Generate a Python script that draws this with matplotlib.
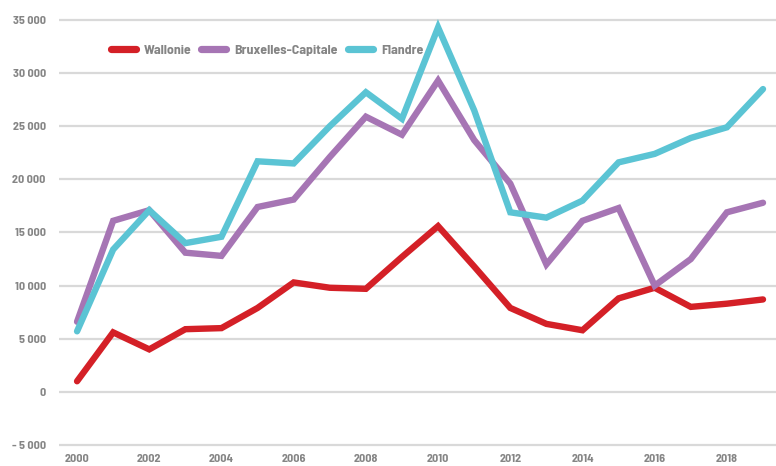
import matplotlib
matplotlib.use("Agg")
import matplotlib.pyplot as plt
from matplotlib.ticker import FuncFormatter
from matplotlib import font_manager

years = list(range(2000, 2020))
wallonie = [1000, 5600, 4000, 5900, 6000, 7900, 10300, 9800, 9700, 12700,
            15600, 11800, 7900, 6400, 5800, 8800, 9800, 8000, 8300, 8700]
bruxelles = [6600, 16100, 17100, 13100, 12800, 17400, 18100, 22100, 25900, 24200,
             29300, 23700, 19600, 12000, 16100, 17300, 10000, 12500, 16900, 17800]
flandre = [5700, 13400, 17100, 14000, 14600, 21700, 21500, 25000, 28200, 25700,
           34300, 26500, 16900, 16400, 18000, 21600, 22400, 23900, 24900, 28500]
series_names = ["Wallonie", "Bruxelles-Capitale", "Flandre"]
colors = ["#d42027", "#a675b4", "#5bc4d4"]
yticks = [-5000, 0, 5000, 10000, 15000, 20000, 25000, 30000, 35000]
xticks = list(range(2000, 2019, 2))

avail = {f.name for f in font_manager.fontManager.ttflist}
fam = "DejaVu Sans"
for cand in ["Barlow Semi Condensed", "Barlow Condensed", "Roboto Condensed",
             "IBM Plex Sans Condensed", "Open Sans Condensed"]:
    if cand in avail:
        fam = cand
        break
plt.rcParams['font.family'] = [fam, 'DejaVu Sans']

W, H = 776, 466
fig = plt.figure(figsize=(W/100, H/100), dpi=100)
ax = fig.add_axes([59/W, (466-450)/H, 717/W, 435/H])

lw = 4.6
for vals, name, c in zip([wallonie, bruxelles, flandre], series_names, colors):
    ax.plot(years, vals, color=c, lw=lw, label=name, solid_capstyle='round',
            solid_joinstyle='miter', zorder=3)

ax.set_xlim(1999.5, 2019.36)
ax.set_ylim(-5470, 35470)
ax.set_yticks(yticks)
ax.set_xticks(xticks)

def fmt(v, pos):
    v = int(round(v))
    if v == 0:
        return "0"
    s = f"{abs(v):,}".replace(",", " ")
    return ("- " + s) if v < 0 else s

ax.yaxis.set_major_formatter(FuncFormatter(fmt))
ax.grid(axis='y', color='#d9d9d9', lw=1.6)
ax.set_axisbelow(True)
for s in ax.spines.values():
    s.set_visible(False)
ax.tick_params(axis='both', length=0, labelsize=8.7, labelcolor='#858585')
ax.tick_params(axis='y', pad=9.5)
ax.tick_params(axis='x', pad=3.0)
for lab in ax.get_xticklabels() + ax.get_yticklabels():
    lab.set_fontweight('bold')

leg = fig.legend(loc='center', bbox_to_anchor=(267/W, 1-50/H), ncol=3, frameon=False,
                 handlelength=1.8, handletextpad=0.58, columnspacing=0.72,
                 prop={'weight': 'bold', 'size': 10})
for t in leg.get_texts():
    t.set_color('#858585')
for h in leg.legend_handles:
    h.set_linewidth(5.2)
    h.set_solid_capstyle('round')

fig.savefig("out.png", dpi=100)
